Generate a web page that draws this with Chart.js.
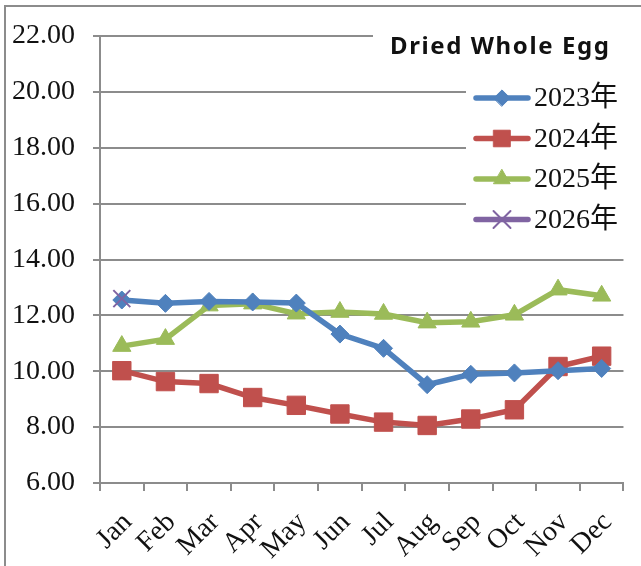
<!DOCTYPE html>
<html><head><meta charset="utf-8">
<script src="https://cdn.jsdelivr.net/npm/chart.js@4"></script>
<style>html,body{margin:0;padding:0;background:#fff}#wrap{width:641px;height:566px}</style>
</head><body><div id="wrap"><canvas id="c" width="641" height="566"></canvas></div>
<script>
const months = ['Jan','Feb','Mar','Apr','May','Jun','Jul','Aug','Sep','Oct','Nov','Dec'];
const yTicks = [6,8,10,12,14,16,18,20,22];
const s2023 = [12.55,12.43,12.5,12.48,12.44,11.33,10.82,9.52,9.89,9.94,10.02,10.1];
const s2024 = [10.02,9.63,9.56,9.06,8.78,8.47,8.18,8.06,8.29,8.62,10.17,10.54];
const s2025 = [10.9,11.15,12.35,12.42,12.06,12.12,12.05,11.74,11.77,12.02,12.92,12.7];
const s2026 = [12.6,null,null,null,null,null,null,null,null,null,null,null];
const seriesNames = ['2023年','2024年','2025年','2026年'];
const chartTitle = 'Dried Whole Egg';

const GRID = '#8c8c8c';
const SERIF = '"Liberation Serif", "Noto Sans CJK JP", serif';

function ds(label, data, color, style, radius, order) {
  return { label, data, order, borderColor: color, backgroundColor: color, borderWidth: 5.5,
    pointStyle: style, pointRadius: radius, pointHoverRadius: radius, pointBorderWidth: style === 'crossRot' ? 2 : 1,
    pointBorderColor: color, pointBackgroundColor: color, tension: 0, spanGaps: false };
}

const overlay = {
  id: 'overlay',
  beforeDraw(chart) {
    const ctx = chart.ctx;
    ctx.save();
    ctx.fillStyle = '#fff';
    ctx.fillRect(0, 0, chart.width, chart.height);
    ctx.strokeStyle = GRID; ctx.lineWidth = 2;
    ctx.strokeRect(5, 6, chart.width + 10, chart.height + 10);
    ctx.restore();
  },
  beforeDatasetsDraw(chart) {
    const ctx = chart.ctx;
    ctx.save();
    ctx.fillStyle = '#fff';
    ctx.fillRect(373, 25, 270, 40);
    ctx.fillRect(466, 70, 162, 172);
    ctx.fillStyle = '#111';
    ctx.font = 'bold 24px "Noto Sans", sans-serif';
    ctx.letterSpacing = '1.6px';
    ctx.textBaseline = 'alphabetic';
    ctx.textAlign = 'left';
    ctx.fillText(chartTitle, 390, 54);
    ctx.letterSpacing = '0px';
    const dsets = chart.data.datasets.slice().sort((a, b) => seriesNames.indexOf(a.label) - seriesNames.indexOf(b.label));
    dsets.forEach((d, i) => {
      const y = 98 + i * 40.5;
      ctx.strokeStyle = d.borderColor; ctx.lineWidth = 5.5; ctx.lineCap = 'round';
      ctx.beginPath(); ctx.moveTo(476, y); ctx.lineTo(528, y); ctx.stroke();
      ctx.fillStyle = d.borderColor; ctx.lineWidth = d.pointBorderWidth;
      const r = d.pointStyle === 'crossRot' ? d.pointRadius : d.pointRadius * 0.9;
      Chart.helpers.drawPoint(ctx, { pointStyle: d.pointStyle, radius: r, rotation: 0, borderWidth: d.pointBorderWidth }, 502, y);
      ctx.fillStyle = '#111';
      ctx.font = '28px ' + SERIF;
      ctx.textBaseline = 'middle';
      ctx.fillText(d.label, 534, y + 1);
    });
    ctx.restore();
  }
};

new Chart(document.getElementById('c'), {
  type: 'line',
  data: {
    labels: months,
    datasets: [
      ds(seriesNames[0], s2023, '#4F81BD', 'rectRot', 9, 1),
      ds(seriesNames[1], s2024, '#C0504D', 'rect', 13, 2),
      ds(seriesNames[2], s2025, '#9BBB59', 'triangle', 10.5, 3),
      ds(seriesNames[3], s2026, '#8064A2', 'crossRot', 12, 0)
    ]
  },
  options: {
    responsive: false, animation: false, devicePixelRatio: 1,
    layout: { padding: { top: 36, right: 4, left: 0, bottom: 0 } },
    plugins: { legend: { display: false }, title: { display: false }, tooltip: { enabled: false } },
    scales: {
      x: {
        offset: true,
        grid: { display: true, drawOnChartArea: false, drawTicks: true, tickLength: 8, offset: true, color: GRID, lineWidth: 2 },
        border: { display: true, color: GRID, width: 2 },
        ticks: { autoSkip: false, maxRotation: 45, minRotation: 45, padding: 15, labelOffset: 6, color: '#111', font: { family: SERIF, size: 28 } },
        afterFit(s) { s.height = 83; }
      },
      y: {
        min: 6, max: 22,
        afterBuildTicks(s) { s.ticks = yTicks.map(v => ({ value: v })); },
        grid: { color: GRID, lineWidth: 2, tickLength: 7 },
        border: { display: true, color: GRID, width: 2 },
        ticks: { padding: 18, color: '#111', font: { family: SERIF, size: 28 }, callback: v => Number(v).toFixed(2) },
        afterFit(s) { s.width = 100; }
      }
    }
  },
  plugins: [overlay]
});
</script></body></html>
